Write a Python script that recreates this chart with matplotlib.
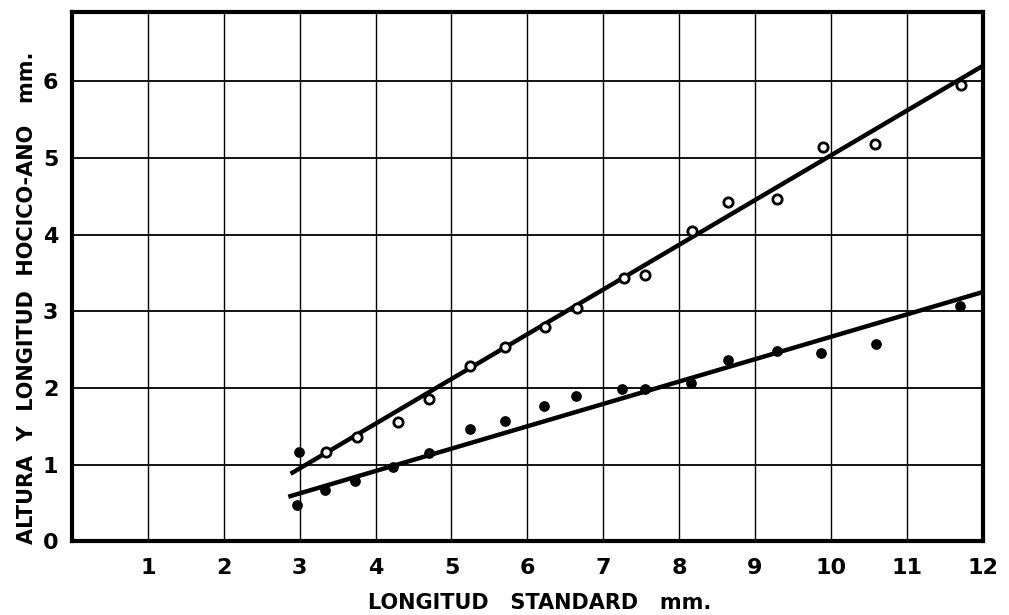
import numpy as np
import matplotlib.pyplot as plt

# longitud standard (mm) vs altura / longitud hocico-ano (mm)
open_x = [3.35, 3.76, 4.29, 4.71, 5.25, 5.71, 6.23, 6.66, 7.27, 7.55,
          8.17, 8.64, 9.29, 9.89, 10.58, 11.71]
open_y = [1.16, 1.36, 1.56, 1.85, 2.29, 2.54, 2.80, 3.04, 3.43, 3.47,
          4.05, 4.43, 4.46, 5.14, 5.18, 5.95]

filled_x = [2.99, 2.96, 3.34, 3.73, 4.23, 4.71, 5.24, 5.71, 6.22, 6.64,
            7.25, 7.55, 8.15, 8.65, 9.29, 9.87, 10.6, 11.70]
filled_y = [1.17, 0.47, 0.67, 0.79, 0.97, 1.15, 1.47, 1.57, 1.77, 1.89,
            1.99, 1.98, 2.07, 2.37, 2.48, 2.46, 2.57, 3.07]

# fitted lines (endpoints)
fit_upper_x = [2.88, 12.0]
fit_upper_y = [0.88, 6.20]
fit_lower_x = [2.85, 12.0]
fit_lower_y = [0.58, 3.25]

xticks = list(range(1, 13))
yticks = list(range(0, 7))

plt.rcParams['font.family'] = 'DejaVu Sans'
plt.rcParams['font.weight'] = 'bold'
plt.rcParams['axes.labelweight'] = 'bold'

fig = plt.figure(figsize=(10.09, 6.15), dpi=100)
ax = fig.add_axes([0.0714, 0.120, 0.9025, 0.860])

ax.set_xlim(0, 12)
ax.set_ylim(0, 6.9)

# grid
for gx in range(1, 12):
    ax.axvline(gx, color='black', lw=1.0, zorder=1)
for gy in range(1, 7):
    ax.axhline(gy, color='black', lw=1.3, zorder=1)

ax.plot(fit_upper_x, fit_upper_y, color='black', lw=3.2, solid_capstyle='butt', zorder=3)
ax.plot(fit_lower_x, fit_lower_y, color='black', lw=3.2, solid_capstyle='butt', zorder=3)

ax.scatter(open_x, open_y, s=45, facecolors='white', edgecolors='black',
           linewidths=2.0, zorder=4)
ax.scatter(filled_x, filled_y, s=45, color='black', zorder=4)

for sp in ax.spines.values():
    sp.set_linewidth(3)

ax.set_xticks(xticks)
ax.set_yticks(yticks)
ax.tick_params(length=0, labelsize=16, pad=12)
ax.tick_params(axis='y', pad=10)

ax.set_xlabel('LONGITUD   STANDARD   mm.', fontsize=15)
ax.set_ylabel('ALTURA  Y  LONGITUD  HOCICO-ANO   mm.', fontsize=15)
ax.xaxis.set_label_coords(0.513, -0.098)
ax.yaxis.set_label_coords(-0.038, 0.46)

plt.savefig('out.png', dpi=100)
